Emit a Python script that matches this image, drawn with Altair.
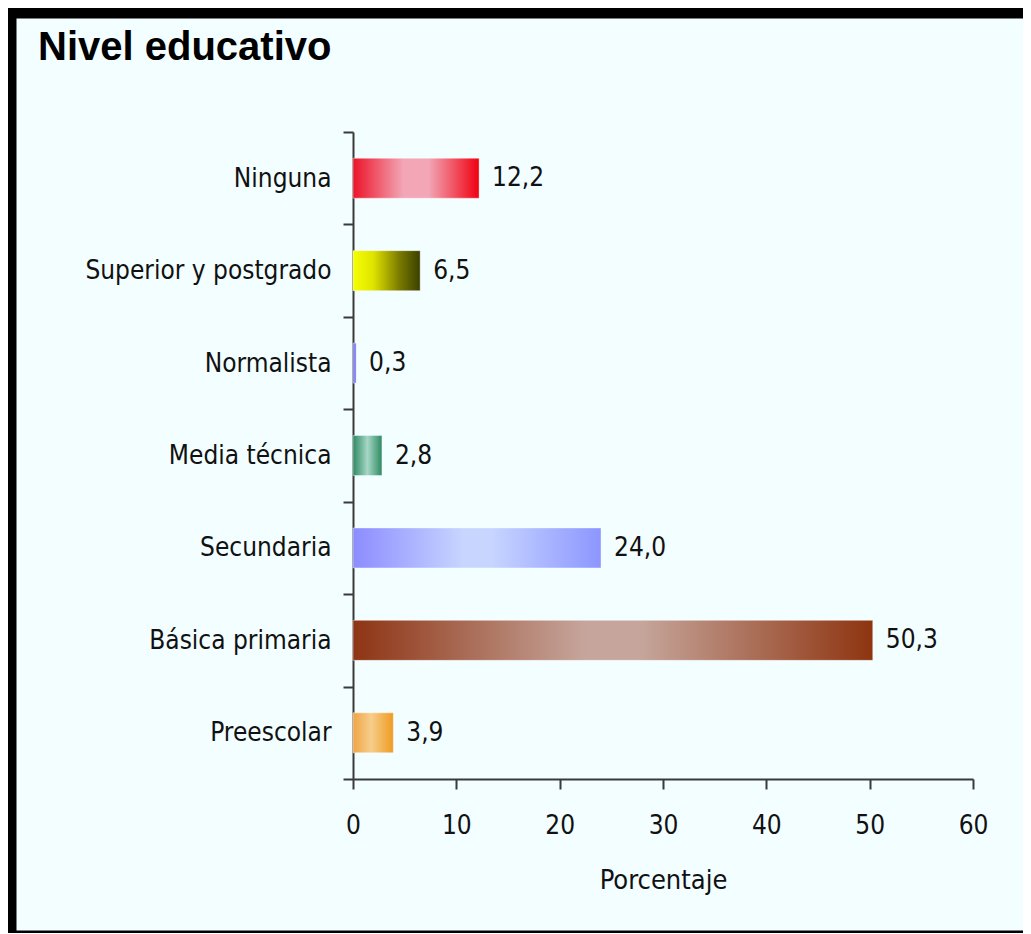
import altair as alt
import pandas as pd

# ---------------- data ----------------
titulo = "Nivel educativo"
categorias = ["Ninguna", "Superior y postgrado", "Normalista", "Media técnica",
              "Secundaria", "Básica primaria", "Preescolar"]
valores = [12.2, 6.5, 0.3, 2.8, 24.0, 50.3, 3.9]
ticks_x = [0, 10, 20, 30, 40, 50, 60]

# gradient stops (offset, colour) per category
gradientes = {
    "Ninguna": [(0, "#EC1428"), (0.4, "#F2A6B6"), (0.6, "#F2A6B6"), (1, "#F00010")],
    "Superior y postgrado": [(0, "#F6FF00"), (0.3, "#E0E400"), (0.7, "#787800"), (1, "#3A4000")],
    "Normalista": [(0, "#6A6AE6"), (0.5, "#8888F2"), (1, "#6A6AE6")],
    "Media técnica": [(0, "#2E8A62"), (0.5, "#A6D6C6"), (1, "#2E8A62")],
    "Secundaria": [(0, "#8C8CFF"), (0.45, "#C8D6FF"), (0.55, "#C8D6FF"), (1, "#8C96FF")],
    "Básica primaria": [(0, "#8E3414"), (0.45, "#C6A69C"), (0.55, "#C6A69C"), (1, "#8E3410")],
    "Preescolar": [(0, "#F0A444"), (0.45, "#F6CE8C"), (1, "#F09A20")],
}

df = pd.DataFrame({"nivel": categorias, "valor": valores})
df_titulo = pd.DataFrame({"t": [titulo]})

# ---------------- layout ----------------
FONT = "DejaVu Sans Condensed, DejaVu Sans, sans-serif"
FS = 26
W, H = 1007, 912
X0, X1 = 337, 957     # x-scale pixel range inside the view
Y0, Y1 = 114, 761     # y-scale pixel range inside the view

x_enc = alt.X(
    "valor:Q",
    scale=alt.Scale(domain=[0, 60], range=[X0, X1], nice=False, zero=True),
    axis=alt.Axis(
        values=ticks_x, offset=-(H - Y1), title="Porcentaje", grid=False,
        labelFont=FONT, labelFontSize=FS, labelColor="#111111", labelPadding=23,
        titleFont=FONT, titleFontSize=27, titleFontWeight="normal", titleColor="#111111",
        titlePadding=29, domainColor="#3a3a3a", domainWidth=2, tickColor="#3a3a3a",
        tickWidth=2, tickSize=10, labelFlush=False,
    ),
)
y_enc = alt.Y(
    "nivel:N",
    sort=categorias,
    scale=alt.Scale(domain=categorias, range=[Y0, Y1], paddingInner=0, paddingOuter=0),
    axis=alt.Axis(
        offset=-X0, title=None, tickBand="extent", grid=False,
        labelFont=FONT, labelFontSize=FS, labelColor="#111111", labelPadding=12,
        domainColor="#3a3a3a", domainWidth=2, tickColor="#3a3a3a", tickWidth=2,
        tickSize=10, labelLimit=400,
    ),
)

layers = []
for cat in categorias:
    grad = alt.LinearGradient(
        gradient="linear",
        stops=[alt.GradientStop(color=c, offset=o) for o, c in gradientes[cat]],
        x1=0, x2=1, y1=0, y2=0,
    )
    layers.append(
        alt.Chart(df)
        .transform_filter(alt.datum.nivel == cat)
        .mark_bar(size=40, color=grad, stroke="#ffffff", strokeOpacity=0.4, strokeWidth=1)
        .encode(x=x_enc, y=y_enc)
    )

etiquetas = (
    alt.Chart(df)
    .transform_calculate(txt="replace(format(datum.valor, '.1f'), '.', ',')")
    .mark_text(align="left", baseline="middle", dx=13, font=FONT, fontSize=FS, color="#111111")
    .encode(x=x_enc, y=y_enc, text="txt:N")
)
layers.append(etiquetas)

encabezado = (
    alt.Chart(df_titulo)
    .mark_text(align="left", baseline="alphabetic", font="Liberation Sans",
               fontSize=40, fontWeight="bold", color="#000000")
    .encode(x=alt.value(22), y=alt.value(42), text="t:N")
)
layers.append(encabezado)

chart = (
    alt.layer(*layers)
    .properties(
        width=W, height=H,
        autosize=alt.AutoSizeParams(type="none"),
        padding={"left": 8, "top": 10, "right": 0, "bottom": 3},
        background="#000000",
    )
    .configure_view(fill="#F2FEFF", stroke="transparent")
)

chart.save("out.html", embed_options={"renderer": "svg", "actions": False})
